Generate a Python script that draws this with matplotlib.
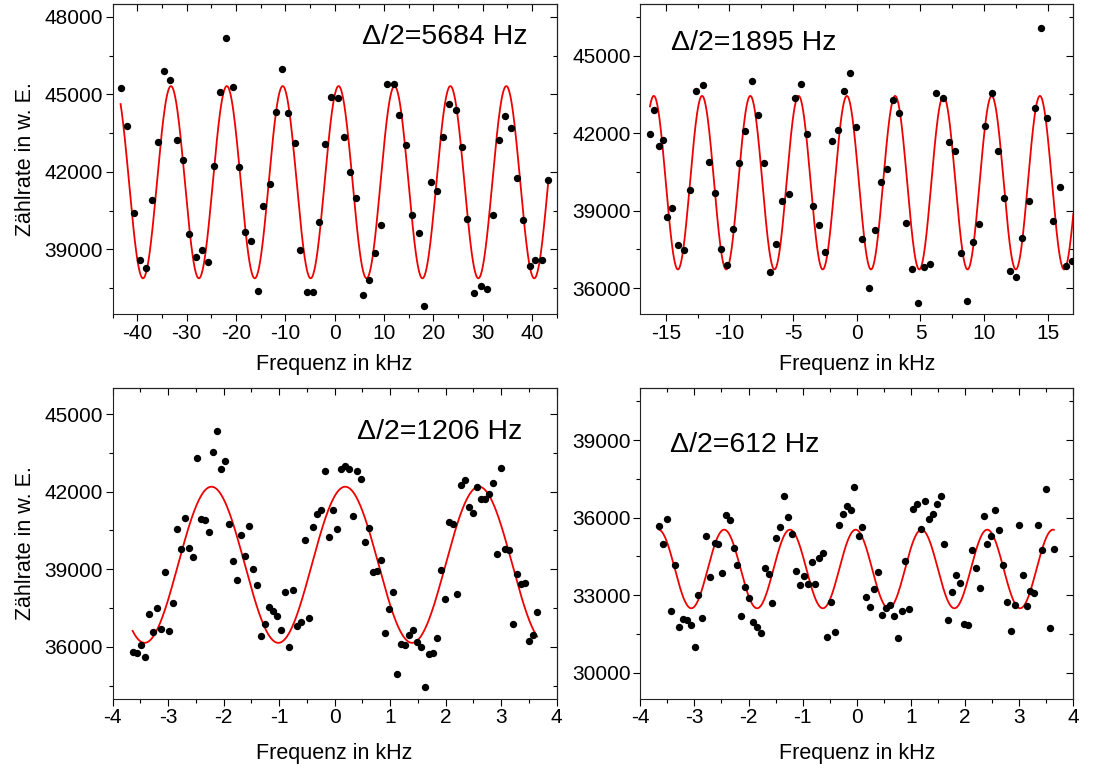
import numpy as np
import matplotlib
matplotlib.use('Agg')
import matplotlib.pyplot as plt
from matplotlib.ticker import MultipleLocator

plt.rcParams['font.family'] = ['Liberation Sans', 'DejaVu Sans']
plt.rcParams['axes.unicode_minus'] = False

# ---- panel A: delta/2 = 5684 Hz
a_x = [-43.4, -42.0, -40.7, -39.5, -38.2, -37.0, -35.8, -34.5, -33.3, -32.0,
       -30.7, -29.5, -28.1, -26.9, -25.7, -24.4, -23.2, -22.0, -20.7, -19.4,
       -18.2, -16.9, -15.6, -14.5, -13.1, -11.9, -10.7, -9.4, -8.1, -7.0,
       -5.7, -4.4, -3.2, -2.0, -0.7, 0.7, 1.9, 3.1, 4.4, 5.7,
       6.9, 8.2, 9.4, 10.7, 12.0, 13.1, 14.5, 15.7, 17.0, 18.2,
       19.5, 20.7, 22.0, 23.2, 24.5, 25.8, 26.9, 28.3, 29.6, 30.8,
       32.1, 33.3, 34.5, 35.8, 37.0, 38.2, 39.5, 40.7, 42.0, 43.3]
a_y = [45257, 43780, 40416, 38593, 38298, 40917, 43151, 45899, 45539, 43215,
       42458, 39594, 38708, 38978, 38529, 42214, 45090, 47183, 45295, 42201,
       39671, 39312, 37373, 40660, 41546, 44307, 45989, 44281, 43112, 38978,
       37335, 37335, 40044, 43087, 44910, 44846, 43356, 42008, 41007, 37219,
       37822, 38850, 39941, 45411, 45411, 44191, 43036, 40339, 39646, 36795,
       41598, 41251, 43369, 44615, 44409, 42946, 40185, 37296, 37591, 37476,
       40326, 43228, 44178, 43690, 41751, 40146, 38349, 38580, 38593, 41700]

# ---- panel B: delta/2 = 1895 Hz
b_x = [-16.24, -15.90, -15.56, -15.20, -14.88, -14.54, -14.07, -13.60, -13.11, -12.64,
       -12.11, -11.64, -11.17, -10.68, -10.21, -9.71, -9.22, -8.75, -8.25, -7.78,
       -7.28, -6.81, -6.32, -5.85, -5.35, -4.86, -4.39, -3.92, -3.42, -2.95,
       -2.48, -1.98, -1.49, -1.02, -0.50, -0.03, 0.44, 0.94, 1.41, 1.91,
       2.38, 2.87, 3.34, 3.84, 4.31, 4.80, 5.30, 5.77, 6.24, 6.74,
       7.21, 7.70, 8.17, 8.67, 9.14, 9.63, 10.10, 10.60, 11.07, 11.57,
       12.06, 12.53, 13.00, 13.52, 13.97, 14.46, 14.96, 15.43, 15.93, 16.42, 16.87]
b_y = [41971, 42912, 41494, 41739, 38761, 39109, 37666, 37460, 39792, 43647,
       43879, 40875, 39689, 37524, 36892, 38297, 40836, 42087, 44033, 42706,
       40836, 36608, 37691, 39354, 39638, 43363, 43917, 41971, 39161, 38439,
       37408, 41713, 42126, 43634, 44343, 42229, 37898, 36003, 38246, 40102,
       40630, 43286, 42770, 38503, 36750, 35423, 36802, 36931, 43569, 43363,
       41674, 41326, 37356, 35500, 37794, 38464, 42280, 43543, 41300, 39496,
       36647, 36415, 37923, 39367, 42963, 46057, 42577, 38606, 39908, 36853, 37034]

# ---- panel C: delta/2 = 1206 Hz
c_x = [-3.640, -3.556, -3.483, -3.411, -3.339, -3.273, -3.201, -3.123, -3.051, -2.979,
       -2.907, -2.835, -2.763, -2.691, -2.619, -2.547, -2.475, -2.402, -2.330, -2.258,
       -2.186, -2.114, -2.042, -1.970, -1.898, -1.826, -1.754, -1.682, -1.610, -1.538,
       -1.466, -1.393, -1.321, -1.249, -1.177, -1.105, -1.033, -0.961, -0.889, -0.817,
       -0.745, -0.673, -0.601, -0.529, -0.456, -0.384, -0.312, -0.240, -0.168, -0.096,
       -0.024, 0.048, 0.120, 0.192, 0.264, 0.336, 0.408, 0.480, 0.553, 0.625,
       0.697, 0.769, 0.841, 0.913, 0.985, 1.057, 1.129, 1.201, 1.273, 1.345,
       1.417, 1.489, 1.561, 1.633, 1.706, 1.778, 1.850, 1.922, 1.994, 2.066,
       2.138, 2.210, 2.282, 2.354, 2.426, 2.498, 2.570, 2.642, 2.715, 2.787,
       2.859, 2.931, 3.003, 3.075, 3.147, 3.219, 3.291, 3.363, 3.435, 3.508,
       3.580, 3.652]
c_y = [35794, 35768, 36051, 35588, 37274, 36579, 37493, 36682, 38884, 36630,
       37699, 40571, 39798, 40983, 39837, 39476, 43300, 40957, 40892, 40429,
       43545, 44356, 42863, 43185, 40751, 39335, 38601, 40313, 39502, 40661,
       39000, 38382, 36437, 36888, 37532, 37403, 37184, 36643, 38124, 35974,
       38214, 36824, 36953, 40120, 37133, 40648, 41137, 41279, 42811, 40236,
       41292, 40571, 42863, 42991, 42888, 41060, 42798, 42476, 40056, 40584,
       38897, 38948, 39347, 36540, 37455, 38124, 34957, 36116, 36064, 36450,
       36669, 36180, 35974, 34442, 35716, 35768, 36347, 38961, 37867, 40828,
       40751, 38047, 42270, 42451, 41395, 41163, 42193, 41717, 41717, 41897,
       42348, 39579, 42927, 39785, 39734, 36888, 38807, 38433, 38485, 36206,
       36476, 37338]

# ---- panel D: delta/2 = 612 Hz
d_x = [-3.645, -3.578, -3.504, -3.424, -3.356, -3.288, -3.214, -3.140, -3.067, -2.993,
       -2.925, -2.851, -2.777, -2.703, -2.628, -2.555, -2.488, -2.414, -2.340, -2.272,
       -2.204, -2.131, -2.057, -1.983, -1.915, -1.847, -1.773, -1.700, -1.626, -1.558,
       -1.484, -1.416, -1.336, -1.268, -1.195, -1.121, -1.053, -0.979, -0.905, -0.831,
       -0.764, -0.690, -0.616, -0.542, -0.468, -0.400, -0.326, -0.252, -0.185, -0.111,
       -0.043, 0.037, 0.105, 0.179, 0.246, 0.314, 0.394, 0.462, 0.536, 0.610,
       0.683, 0.757, 0.831, 0.899, 0.967, 1.041, 1.115, 1.188, 1.262, 1.330,
       1.404, 1.478, 1.552, 1.619, 1.693, 1.767, 1.835, 1.909, 1.977, 2.057,
       2.124, 2.198, 2.272, 2.346, 2.414, 2.488, 2.562, 2.629, 2.703, 2.777,
       2.851, 2.919, 2.993, 3.067, 3.140, 3.208, 3.282, 3.356, 3.424, 3.498,
       3.565, 3.639]
d_y = [35674, 34978, 35945, 32387, 34166, 31769, 32065, 32039, 31833, 31008,
       33019, 32104, 35288, 33689, 35030, 34965, 33870, 36087, 35894, 34811,
       34179, 32194, 33328, 32890, 31949, 31756, 31550, 34037, 33805, 32710,
       35210, 35636, 36834, 36022, 35365, 33947, 33380, 33741, 33444, 34269,
       33419, 34449, 34630, 31382, 32735, 31563, 35713, 36138, 36448, 36293,
       37195, 35288, 35649, 32941, 32542, 33251, 33909, 32220, 32490, 32619,
       32194, 31356, 32387, 34321, 32465, 36345, 36538, 35571, 36654, 35945,
       36126, 36525, 36847, 34978, 32052, 33109, 33779, 33470, 31885, 31859,
       34759, 34063, 33277, 36048, 34965, 35288, 36293, 35520, 34179, 32735,
       31627, 32619, 35700, 33779, 32594, 33161, 33071, 35713, 34733, 37105,
       31717, 34785]

# fit parameters: offset, amplitude, period (kHz), peak position (kHz), x-range
fits = {
    'A': (41600, 3720, 11.33, 0.80, -43.4, 43.3),
    'B': (40082, 3358, 3.79, -0.78, -16.24, 17.0),
    'C': (39173, 3020, 2.41, 0.19, -3.64, 3.65),
    'D': (34011, 1521, 1.215, -0.02, -3.645, 3.64),
}
labels = {'A': 'Δ/2=5684 Hz', 'B': 'Δ/2=1895 Hz',
          'C': 'Δ/2=1206 Hz', 'D': 'Δ/2=612 Hz'}

fig = plt.figure(figsize=(10.96, 7.72), dpi=100)

panels = [
    # key, x, y, rect, xlim, xmajor, xminor, ylim, ylabel?, text pos, ha, xlabelpad
    ('A', a_x, a_y, [0.1028, 0.5933, 0.4051, 0.4016], (-45, 45), 10, 5, (36500, 48500), True, (0.935, 0.894), 'right', 8),
    ('B', b_x, b_y, [0.5842, 0.5933, 0.3951, 0.4016], (-17, 17), 5, 2.5, (35000, 47000), False, (0.071, 0.874), 'left', 8),
    ('C', c_x, c_y, [0.1028, 0.0952, 0.4051, 0.4018], (-4, 4), 1, 0.5, (34000, 46000), True, (0.922, 0.859), 'right', 11),
    ('D', d_x, d_y, [0.5842, 0.0952, 0.3951, 0.4018], (-4, 4), 1, 0.5, (29000, 41000), False, (0.069, 0.816), 'left', 11),
]

for key, xs, ys, rect, xlim, xmaj, xmin, ylim, ylab, tpos, ha, xpad in panels:
    ax = fig.add_axes(rect)
    off, amp, per, x0, xa, xb = fits[key]
    xf = np.linspace(xa, xb, 800)
    ax.plot(xf, off + amp * np.cos(2 * np.pi * (xf - x0) / per), color='#ee0000', lw=1.3, zorder=2)
    ax.scatter(xs, ys, s=28, color='black', zorder=3, linewidths=0)
    ax.set_xlim(*xlim)
    ax.set_ylim(*ylim)
    ax.xaxis.set_major_locator(MultipleLocator(xmaj))
    ax.xaxis.set_minor_locator(MultipleLocator(xmin))
    ax.yaxis.set_major_locator(MultipleLocator(3000))
    ax.yaxis.set_minor_locator(MultipleLocator(1500))
    ax.tick_params(which='major', direction='out', length=5, width=0.8, labelsize=15, pad=2)
    ax.tick_params(which='minor', direction='out', length=3, width=0.8)
    for sp in ax.spines.values():
        sp.set_linewidth(0.8)
        sp.set_color('#222222')

    # inward ticks on top and right, no labels
    top = ax.secondary_xaxis('top')
    top.xaxis.set_major_locator(MultipleLocator(xmaj))
    top.xaxis.set_minor_locator(MultipleLocator(xmin))
    top.tick_params(which='major', direction='in', length=5, width=0.8, labeltop=False)
    top.tick_params(which='minor', direction='in', length=3, width=0.8)
    right = ax.secondary_yaxis('right')
    right.yaxis.set_major_locator(MultipleLocator(3000))
    right.yaxis.set_minor_locator(MultipleLocator(1500))
    right.tick_params(which='major', direction='in', length=5, width=0.8, labelright=False)
    right.tick_params(which='minor', direction='in', length=3, width=0.8)

    ax.set_xlabel('Frequenz in kHz', fontsize=15.5, labelpad=xpad)
    if ylab:
        ax.set_ylabel('Zählrate in w. E.', fontsize=15.5, labelpad=6)
    ax.text(tpos[0], tpos[1], labels[key], transform=ax.transAxes, fontsize=20.5,
            ha=ha, va='center')

fig.savefig('out.png', dpi=100)
